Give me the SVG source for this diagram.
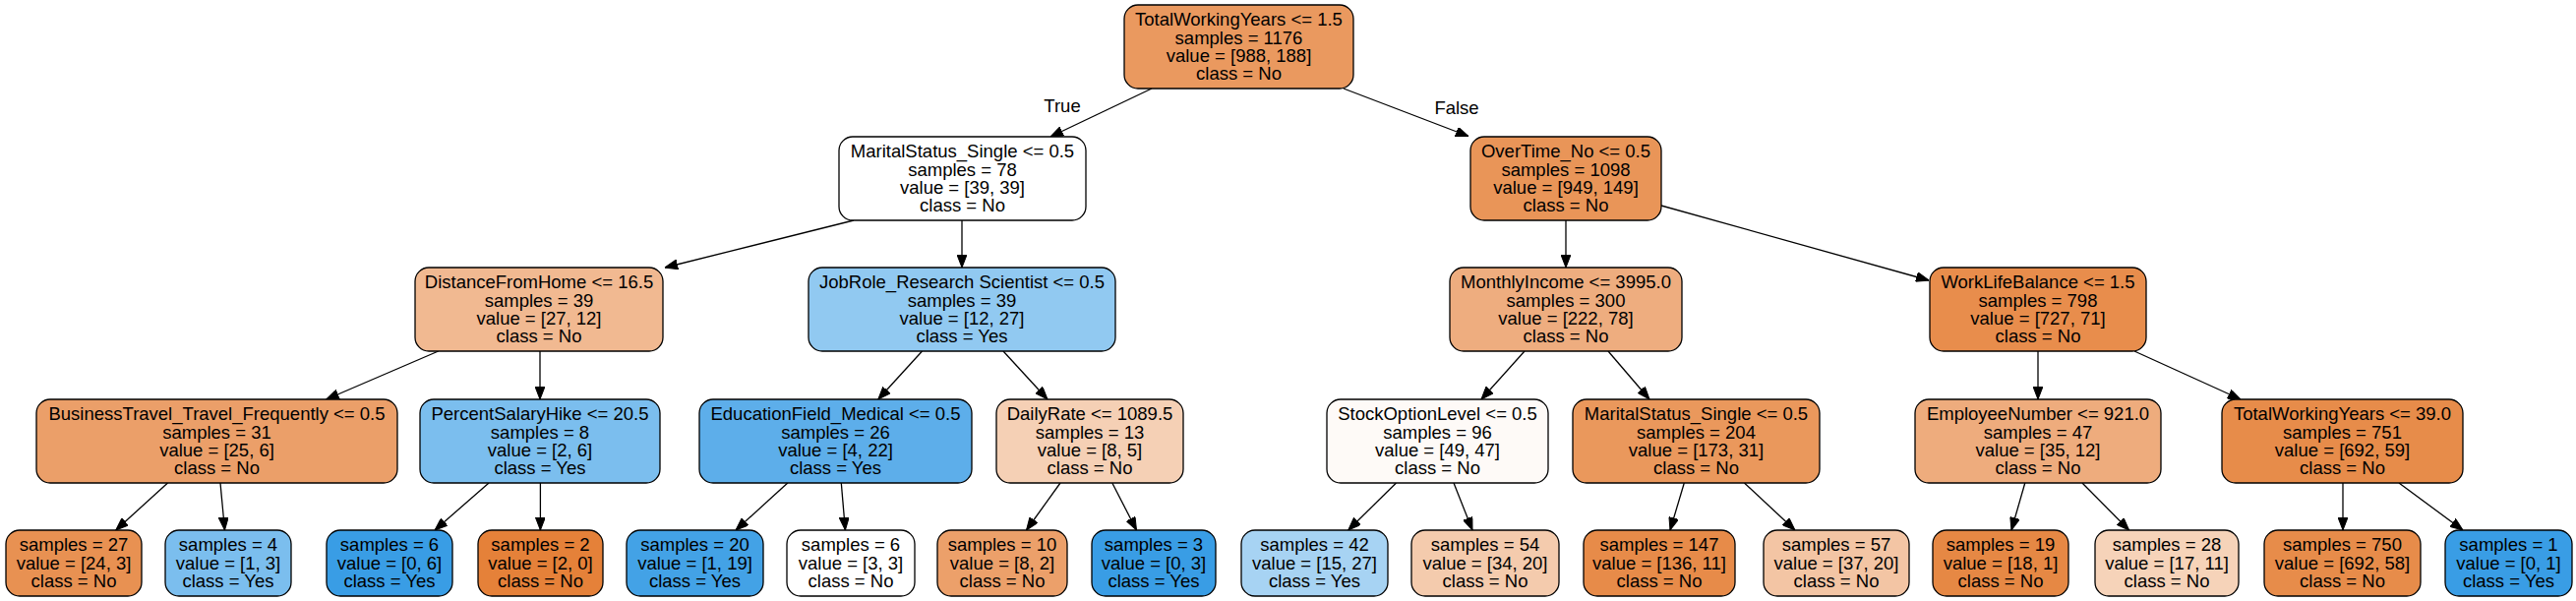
<svg xmlns="http://www.w3.org/2000/svg" width="2619" height="611" viewBox="0 0 2619 611">
<style>
.node rect{stroke:#000;stroke-width:1.3}
text{font-family:"Liberation Sans",Arial,Helvetica,sans-serif;font-size:18.5px;fill:#000;text-anchor:middle}
.edges line{stroke:#000;stroke-width:1.3;marker-end:url(#arr)}
</style>
<defs>
<marker id="arr" markerUnits="userSpaceOnUse" viewBox="0 0 13 10" refX="13" refY="5" markerWidth="13" markerHeight="10" orient="auto"><path d="M0,0 L13,5 L0,10 z" fill="#000" stroke="#000" stroke-width="1"/></marker>
</defs>
<rect width="2619" height="611" fill="#fff"/>
<g class="edges">
<line x1="1171" y1="90" x2="1068" y2="139"/>
<line x1="1366" y1="90" x2="1493" y2="138.5"/>
<line x1="868" y1="224" x2="676" y2="272"/>
<line x1="978" y1="224" x2="978" y2="272"/>
<line x1="445.7" y1="357" x2="331.7" y2="406"/>
<line x1="549" y1="357" x2="549" y2="406"/>
<line x1="170.5" y1="491" x2="117.7" y2="539"/>
<line x1="224" y1="491" x2="228.5" y2="539"/>
<line x1="497" y1="491" x2="442" y2="539"/>
<line x1="549.4" y1="491" x2="549.4" y2="539"/>
<line x1="937.5" y1="357" x2="892.8" y2="406"/>
<line x1="1020" y1="357" x2="1065" y2="406"/>
<line x1="800.8" y1="491" x2="748" y2="539"/>
<line x1="855.3" y1="491" x2="859.4" y2="539"/>
<line x1="1078" y1="491" x2="1043.5" y2="539"/>
<line x1="1130.8" y1="491" x2="1155.5" y2="539"/>
<line x1="1592" y1="224" x2="1592" y2="272"/>
<line x1="1689" y1="209" x2="1961" y2="285"/>
<line x1="1550" y1="357" x2="1506" y2="406"/>
<line x1="1635" y1="357" x2="1677" y2="406"/>
<line x1="1419.5" y1="491" x2="1370.7" y2="539"/>
<line x1="1478" y1="491" x2="1497" y2="539"/>
<line x1="1712.3" y1="491" x2="1698" y2="539"/>
<line x1="1773.5" y1="491" x2="1825" y2="539"/>
<line x1="2072" y1="357" x2="2072" y2="406"/>
<line x1="2170" y1="357" x2="2278" y2="406"/>
<line x1="2058.8" y1="491" x2="2045" y2="539"/>
<line x1="2117" y1="491" x2="2164.6" y2="539"/>
<line x1="2382" y1="491" x2="2382" y2="539"/>
<line x1="2439" y1="491" x2="2504" y2="539"/>
<text x="1080" y="114">True</text>
<text x="1481" y="116">False</text>
</g>
<g id="n0" class="node"><rect x="1143" y="5" width="233" height="85" rx="14" fill="#ea995f"/><text x="1259.5" y="26.2"><tspan x="1259.5">TotalWorkingYears &lt;= 1.5</tspan><tspan x="1259.5" dy="18.3">samples = 1176</tspan><tspan x="1259.5" dy="18.3">value = [988, 188]</tspan><tspan x="1259.5" dy="18.3">class = No</tspan></text></g>
<g id="n1" class="node"><rect x="853" y="139" width="251" height="85" rx="14" fill="#ffffff"/><text x="978.5" y="160.2"><tspan x="978.5">MaritalStatus_Single &lt;= 0.5</tspan><tspan x="978.5" dy="18.3">samples = 78</tspan><tspan x="978.5" dy="18.3">value = [39, 39]</tspan><tspan x="978.5" dy="18.3">class = No</tspan></text></g>
<g id="n16" class="node"><rect x="1495" y="139" width="194" height="85" rx="14" fill="#e99558"/><text x="1592" y="160.2"><tspan x="1592">OverTime_No &lt;= 0.5</tspan><tspan x="1592" dy="18.3">samples = 1098</tspan><tspan x="1592" dy="18.3">value = [949, 149]</tspan><tspan x="1592" dy="18.3">class = No</tspan></text></g>
<g id="n2" class="node"><rect x="422" y="272" width="252" height="85" rx="14" fill="#f1b991"/><text x="548" y="293.2"><tspan x="548">DistanceFromHome &lt;= 16.5</tspan><tspan x="548" dy="18.3">samples = 39</tspan><tspan x="548" dy="18.3">value = [27, 12]</tspan><tspan x="548" dy="18.3">class = No</tspan></text></g>
<g id="n9" class="node"><rect x="822" y="272" width="312" height="85" rx="14" fill="#91c9f1"/><text x="978" y="293.2"><tspan x="978">JobRole_Research Scientist &lt;= 0.5</tspan><tspan x="978" dy="18.3">samples = 39</tspan><tspan x="978" dy="18.3">value = [12, 27]</tspan><tspan x="978" dy="18.3">class = Yes</tspan></text></g>
<g id="n17" class="node"><rect x="1474" y="272" width="236" height="85" rx="14" fill="#eead7f"/><text x="1592" y="293.2"><tspan x="1592">MonthlyIncome &lt;= 3995.0</tspan><tspan x="1592" dy="18.3">samples = 300</tspan><tspan x="1592" dy="18.3">value = [222, 78]</tspan><tspan x="1592" dy="18.3">class = No</tspan></text></g>
<g id="n24" class="node"><rect x="1962" y="272" width="220" height="85" rx="14" fill="#e88d4c"/><text x="2072" y="293.2"><tspan x="2072">WorkLifeBalance &lt;= 1.5</tspan><tspan x="2072" dy="18.3">samples = 798</tspan><tspan x="2072" dy="18.3">value = [727, 71]</tspan><tspan x="2072" dy="18.3">class = No</tspan></text></g>
<g id="n3" class="node"><rect x="37" y="406" width="367" height="85" rx="14" fill="#eb9f69"/><text x="220.5" y="427.2"><tspan x="220.5">BusinessTravel_Travel_Frequently &lt;= 0.5</tspan><tspan x="220.5" dy="18.3">samples = 31</tspan><tspan x="220.5" dy="18.3">value = [25, 6]</tspan><tspan x="220.5" dy="18.3">class = No</tspan></text></g>
<g id="n6" class="node"><rect x="427" y="406" width="244" height="85" rx="14" fill="#7bbeee"/><text x="549" y="427.2"><tspan x="549">PercentSalaryHike &lt;= 20.5</tspan><tspan x="549" dy="18.3">samples = 8</tspan><tspan x="549" dy="18.3">value = [2, 6]</tspan><tspan x="549" dy="18.3">class = Yes</tspan></text></g>
<g id="n10" class="node"><rect x="711" y="406" width="277" height="85" rx="14" fill="#5daeea"/><text x="849.5" y="427.2"><tspan x="849.5">EducationField_Medical &lt;= 0.5</tspan><tspan x="849.5" dy="18.3">samples = 26</tspan><tspan x="849.5" dy="18.3">value = [4, 22]</tspan><tspan x="849.5" dy="18.3">class = Yes</tspan></text></g>
<g id="n13" class="node"><rect x="1013" y="406" width="190" height="85" rx="14" fill="#f5d0b5"/><text x="1108" y="427.2"><tspan x="1108">DailyRate &lt;= 1089.5</tspan><tspan x="1108" dy="18.3">samples = 13</tspan><tspan x="1108" dy="18.3">value = [8, 5]</tspan><tspan x="1108" dy="18.3">class = No</tspan></text></g>
<g id="n18" class="node"><rect x="1349" y="406" width="225" height="85" rx="14" fill="#fefaf7"/><text x="1461.5" y="427.2"><tspan x="1461.5">StockOptionLevel &lt;= 0.5</tspan><tspan x="1461.5" dy="18.3">samples = 96</tspan><tspan x="1461.5" dy="18.3">value = [49, 47]</tspan><tspan x="1461.5" dy="18.3">class = No</tspan></text></g>
<g id="n21" class="node"><rect x="1599" y="406" width="251" height="85" rx="14" fill="#ea985c"/><text x="1724.5" y="427.2"><tspan x="1724.5">MaritalStatus_Single &lt;= 0.5</tspan><tspan x="1724.5" dy="18.3">samples = 204</tspan><tspan x="1724.5" dy="18.3">value = [173, 31]</tspan><tspan x="1724.5" dy="18.3">class = No</tspan></text></g>
<g id="n25" class="node"><rect x="1947" y="406" width="250" height="85" rx="14" fill="#eeac7d"/><text x="2072" y="427.2"><tspan x="2072">EmployeeNumber &lt;= 921.0</tspan><tspan x="2072" dy="18.3">samples = 47</tspan><tspan x="2072" dy="18.3">value = [35, 12]</tspan><tspan x="2072" dy="18.3">class = No</tspan></text></g>
<g id="n28" class="node"><rect x="2259" y="406" width="245" height="85" rx="14" fill="#e78c4a"/><text x="2381.5" y="427.2"><tspan x="2381.5">TotalWorkingYears &lt;= 39.0</tspan><tspan x="2381.5" dy="18.3">samples = 751</tspan><tspan x="2381.5" dy="18.3">value = [692, 59]</tspan><tspan x="2381.5" dy="18.3">class = No</tspan></text></g>
<g id="n4" class="node"><rect x="6" y="539" width="138" height="67" rx="14" fill="#e89152"/><text x="75" y="560.2"><tspan x="75">samples = 27</tspan><tspan x="75" dy="18.3">value = [24, 3]</tspan><tspan x="75" dy="18.3">class = No</tspan></text></g>
<g id="n5" class="node"><rect x="168" y="539" width="128" height="67" rx="14" fill="#7bbeee"/><text x="232" y="560.2"><tspan x="232">samples = 4</tspan><tspan x="232" dy="18.3">value = [1, 3]</tspan><tspan x="232" dy="18.3">class = Yes</tspan></text></g>
<g id="n7" class="node"><rect x="332" y="539" width="128" height="67" rx="14" fill="#399de5"/><text x="396" y="560.2"><tspan x="396">samples = 6</tspan><tspan x="396" dy="18.3">value = [0, 6]</tspan><tspan x="396" dy="18.3">class = Yes</tspan></text></g>
<g id="n8" class="node"><rect x="486" y="539" width="127" height="67" rx="14" fill="#e58139"/><text x="549.5" y="560.2"><tspan x="549.5">samples = 2</tspan><tspan x="549.5" dy="18.3">value = [2, 0]</tspan><tspan x="549.5" dy="18.3">class = No</tspan></text></g>
<g id="n11" class="node"><rect x="637" y="539" width="139" height="67" rx="14" fill="#43a2e6"/><text x="706.5" y="560.2"><tspan x="706.5">samples = 20</tspan><tspan x="706.5" dy="18.3">value = [1, 19]</tspan><tspan x="706.5" dy="18.3">class = Yes</tspan></text></g>
<g id="n12" class="node"><rect x="800" y="539" width="130" height="67" rx="14" fill="#ffffff"/><text x="865" y="560.2"><tspan x="865">samples = 6</tspan><tspan x="865" dy="18.3">value = [3, 3]</tspan><tspan x="865" dy="18.3">class = No</tspan></text></g>
<g id="n14" class="node"><rect x="953" y="539" width="132" height="67" rx="14" fill="#eca06a"/><text x="1019" y="560.2"><tspan x="1019">samples = 10</tspan><tspan x="1019" dy="18.3">value = [8, 2]</tspan><tspan x="1019" dy="18.3">class = No</tspan></text></g>
<g id="n15" class="node"><rect x="1110" y="539" width="126" height="67" rx="14" fill="#399de5"/><text x="1173" y="560.2"><tspan x="1173">samples = 3</tspan><tspan x="1173" dy="18.3">value = [0, 3]</tspan><tspan x="1173" dy="18.3">class = Yes</tspan></text></g>
<g id="n19" class="node"><rect x="1262" y="539" width="149" height="67" rx="14" fill="#a7d3f3"/><text x="1336.5" y="560.2"><tspan x="1336.5">samples = 42</tspan><tspan x="1336.5" dy="18.3">value = [15, 27]</tspan><tspan x="1336.5" dy="18.3">class = Yes</tspan></text></g>
<g id="n20" class="node"><rect x="1435" y="539" width="150" height="67" rx="14" fill="#f4cbad"/><text x="1510" y="560.2"><tspan x="1510">samples = 54</tspan><tspan x="1510" dy="18.3">value = [34, 20]</tspan><tspan x="1510" dy="18.3">class = No</tspan></text></g>
<g id="n22" class="node"><rect x="1610" y="539" width="154" height="67" rx="14" fill="#e78b49"/><text x="1687" y="560.2"><tspan x="1687">samples = 147</tspan><tspan x="1687" dy="18.3">value = [136, 11]</tspan><tspan x="1687" dy="18.3">class = No</tspan></text></g>
<g id="n23" class="node"><rect x="1793" y="539" width="148" height="67" rx="14" fill="#f3c5a4"/><text x="1867" y="560.2"><tspan x="1867">samples = 57</tspan><tspan x="1867" dy="18.3">value = [37, 20]</tspan><tspan x="1867" dy="18.3">class = No</tspan></text></g>
<g id="n26" class="node"><rect x="1965" y="539" width="138" height="67" rx="14" fill="#e68844"/><text x="2034" y="560.2"><tspan x="2034">samples = 19</tspan><tspan x="2034" dy="18.3">value = [18, 1]</tspan><tspan x="2034" dy="18.3">class = No</tspan></text></g>
<g id="n27" class="node"><rect x="2130" y="539" width="146" height="67" rx="14" fill="#f6d3b9"/><text x="2203" y="560.2"><tspan x="2203">samples = 28</tspan><tspan x="2203" dy="18.3">value = [17, 11]</tspan><tspan x="2203" dy="18.3">class = No</tspan></text></g>
<g id="n29" class="node"><rect x="2302" y="539" width="159" height="67" rx="14" fill="#e78c4a"/><text x="2381.5" y="560.2"><tspan x="2381.5">samples = 750</tspan><tspan x="2381.5" dy="18.3">value = [692, 58]</tspan><tspan x="2381.5" dy="18.3">class = No</tspan></text></g>
<g id="n30" class="node"><rect x="2486" y="539" width="129" height="67" rx="14" fill="#399de5"/><text x="2550.5" y="560.2"><tspan x="2550.5">samples = 1</tspan><tspan x="2550.5" dy="18.3">value = [0, 1]</tspan><tspan x="2550.5" dy="18.3">class = Yes</tspan></text></g>
</svg>
